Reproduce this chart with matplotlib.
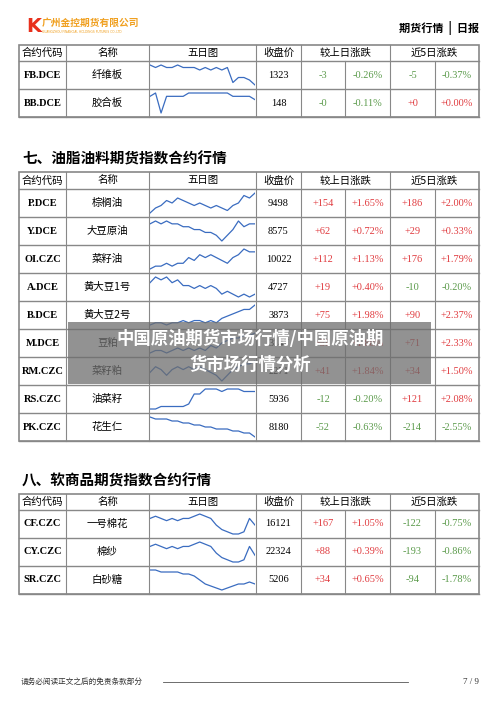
import matplotlib
matplotlib.use("Agg")
import matplotlib.pyplot as plt
from matplotlib.patches import Rectangle

CJK = ["Noto Sans CJK SC", "DejaVu Sans"]
SERIF = ["Liberation Serif", "Noto Sans CJK SC"]
RED, GREEN, BLUE = "#e03a3e", "#5a9a4a", "#3a6cc0"

headers = ["合约代码", "名称", "五日图", "收盘价", "较上日涨跌", "近5日涨跌"]

# table 1 (continued)
t1_codes = ["FB.DCE", "BB.DCE"]
t1_names = ["纤维板", "胶合板"]
t1_close = ["1323", "148"]
t1_chg = ["-3", "-0"]
t1_pct = ["-0.26%", "-0.11%"]
t1_chg5 = ["-5", "+0"]
t1_pct5 = ["-0.37%", "+0.00%"]
t1_spark = [
    [9, 8, 9, 8, 8, 9, 8, 8, 8, 7, 8, 7, 8, 7, 8, 2, 4, 4, 3, 1],
    [5, 6, 0, 5, 5, 5, 5, 6, 6, 6, 6, 6, 6, 6, 6, 5, 5, 5, 5, 4],
]

# table 2: oils
t2_codes = ["P.DCE", "Y.DCE", "OI.CZC", "A.DCE", "B.DCE", "M.DCE", "RM.CZC", "RS.CZC", "PK.CZC"]
t2_names = ["棕榈油", "大豆原油", "菜籽油", "黄大豆1号", "黄大豆2号", "豆粕", "菜籽粕", "油菜籽", "花生仁"]
t2_close = ["9498", "8575", "10022", "4727", "3873", "3147", "2271", "5936", "8180"]
t2_chg = ["+154", "+62", "+112", "+19", "+75", "+58", "+41", "-12", "-52"]
t2_pct = ["+1.65%", "+0.72%", "+1.13%", "+0.40%", "+1.98%", "+1.88%", "+1.84%", "-0.20%", "-0.63%"]
t2_chg5 = ["+186", "+29", "+176", "-10", "+90", "+71", "+34", "+121", "-214"]
t2_pct5 = ["+2.00%", "+0.33%", "+1.79%", "-0.20%", "+2.37%", "+2.33%", "+1.50%", "+2.08%", "-2.55%"]
t2_spark = [
    [2, 4, 5, 7, 6, 8, 7, 6, 5, 6, 5, 4, 5, 4, 3, 5, 6, 9, 8, 10],
    [7, 8, 7, 8, 7, 7, 6, 6, 5, 5, 4, 4, 3, 1, 3, 5, 8, 6, 7, 7],
    [1, 2, 2, 3, 2, 3, 3, 5, 4, 6, 5, 6, 5, 4, 3, 5, 6, 8, 7, 7],
    [7, 9, 8, 9, 7, 8, 6, 6, 5, 6, 5, 6, 5, 3, 4, 3, 2, 3, 2, 3],
    [1, 2, 2, 1, 2, 2, 3, 2, 3, 3, 2, 3, 2, 4, 5, 6, 7, 8, 8, 10],
    [2, 3, 3, 2, 3, 4, 3, 4, 3, 4, 3, 5, 4, 6, 7, 8, 8, 9, 9, 10],
    [4, 6, 5, 3, 5, 6, 5, 6, 5, 6, 5, 4, 3, 1, 3, 5, 6, 7, 7, 8],
    [1, 1, 2, 2, 2, 2, 2, 3, 7, 7, 9, 9, 9, 8, 9, 9, 9, 8, 8, 8],
    [10, 9, 9, 9, 8, 8, 7, 7, 6, 6, 5, 5, 4, 4, 4, 3, 3, 2, 2, 0],
]

# table 3: softs
t3_codes = ["CF.CZC", "CY.CZC", "SR.CZC"]
t3_names = ["一号棉花", "棉纱", "白砂糖"]
t3_close = ["16121", "22324", "5206"]
t3_chg = ["+167", "+88", "+34"]
t3_pct = ["+1.05%", "+0.39%", "+0.65%"]
t3_chg5 = ["-122", "-193", "-94"]
t3_pct5 = ["-0.75%", "-0.86%", "-1.78%"]
t3_spark = [
    [8, 9, 8, 7, 8, 7, 8, 8, 9, 10, 9, 8, 5, 3, 2, 1, 1, 2, 8, 5],
    [8, 9, 8, 7, 8, 7, 8, 8, 9, 10, 9, 8, 5, 3, 2, 1, 1, 2, 8, 4],
    [10, 10, 9, 9, 9, 9, 8, 8, 7, 5, 3, 2, 1, 0, 1, 2, 3, 3, 4, 3],
]

W, H = 500, 707
fig = plt.figure(figsize=(5, 7.07), dpi=100)
ax = fig.add_axes([0, 0, 1, 1])
ax.set_xlim(0, W)
ax.set_ylim(H, 0)
ax.axis("off")

cols = [19, 66, 149, 256, 301, 345, 390, 435, 479]
RH = 28


def col(val):
    return RED if val.startswith("+") else GREEN


def table(top, hh, codes, names, close, chg, pct, chg5, pct5, sparks):
    n = len(codes)
    bottom = top + hh + n * RH
    lc = "#888888"
    ax.add_patch(Rectangle((cols[0], top), cols[-1] - cols[0], bottom - top, fill=False, ec=lc, lw=1.2))
    for i, x in enumerate(cols[1:-1], 1):
        if i in (5, 7):
            ax.plot([x, x], [top + hh, bottom], color=lc, lw=0.8)
        else:
            ax.plot([x, x], [top, bottom], color=lc, lw=0.8)
    for r in range(n + 1):
        y = top + hh + r * RH
        ax.plot([cols[0], cols[-1]], [y, y], color=lc, lw=1.0)
    hx = [(cols[0] + cols[1]) / 2, (cols[1] + cols[2]) / 2, (cols[2] + cols[3]) / 2,
          (cols[3] + cols[4]) / 2, (cols[4] + cols[6]) / 2, (cols[6] + cols[8]) / 2]
    for x, t in zip(hx, headers):
        ax.text(x, top + hh / 2, t, ha="center", va="center", fontsize=7.5, family=CJK)
    for r in range(n):
        yc = top + hh + r * RH + RH / 2
        ax.text((cols[0] + cols[1]) / 2, yc, codes[r], ha="center", va="center",
                fontsize=7.5, weight="bold", family=SERIF)
        ax.text((cols[1] + cols[2]) / 2, yc, names[r], ha="center", va="center", fontsize=7.5, family=CJK)
        ax.text((cols[3] + cols[4]) / 2, yc, close[r], ha="center", va="center", fontsize=7.5, family=SERIF)
        for c, v in zip(range(4, 8), [chg[r], pct[r], chg5[r], pct5[r]]):
            ax.text((cols[c] + cols[c + 1]) / 2, yc, v, ha="center", va="center",
                    fontsize=7.5, family=SERIF, color=col(v))
        y0 = top + hh + r * RH + 3
        sa = fig.add_axes([(cols[2] + 1) / W, 1 - (y0 + RH - 6) / H, (cols[3] - cols[2] - 2) / W, (RH - 6) / H])
        sa.plot(sparks[r], color=BLUE, lw=0.9)
        sa.set_xlim(0, len(sparks[r]) - 1)
        sa.axis("off")


# header band
ax.text(26, 26, "K", color="#e8301c", fontsize=14, weight="bold", va="center", family=["DejaVu Sans"])
ax.text(42, 23, "广州金控期货有限公司", color="#f0a020", fontsize=7, weight="bold", va="center", family=CJK)
ax.text(42, 32, "GUANGZHOU FINANCIAL HOLDINGS FUTURES CO.,LTD", color="#f0a020", fontsize=2.2, va="center")
ax.text(479, 28, "期货行情  |  日报", ha="right", va="center", fontsize=8, weight="bold", family=CJK)

table(45, 16, t1_codes, t1_names, t1_close, t1_chg, t1_pct, t1_chg5, t1_pct5, t1_spark)

ax.text(22, 159, "七、油脂油料期货指数合约行情", fontsize=10.5, weight="bold", va="center", family=CJK)
table(172, 17, t2_codes, t2_names, t2_close, t2_chg, t2_pct, t2_chg5, t2_pct5, t2_spark)

ax.text(22, 481, "八、软商品期货指数合约行情", fontsize=10.5, weight="bold", va="center", family=CJK)
table(494, 16, t3_codes, t3_names, t3_close, t3_chg, t3_pct, t3_chg5, t3_pct5, t3_spark)

# footer
ax.text(21, 682, "请务必阅读正文之后的免责条款部分", fontsize=5.5, va="center", family=CJK, color="#333333")
ax.plot([163, 408], [682, 682], color="#555555", lw=0.6)
ax.text(479, 682, "7 / 9", ha="right", va="center", fontsize=6.5, family=SERIF, color="#333333")

# overlay banner
ov = fig.add_axes([0, 0, 1, 1], zorder=10)
ov.set_xlim(0, W)
ov.set_ylim(H, 0)
ov.axis("off")
ov.add_patch(Rectangle((68, 322), 363, 62, color="#6e6e6e", alpha=0.75, lw=0))
ov.text(250, 339, "中国原油期货市场行情/中国原油期", ha="center", va="center", color="white",
        fontsize=12.5, weight="bold", family=CJK)
ov.text(250, 365, "货市场行情分析", ha="center", va="center", color="white",
        fontsize=12.5, weight="bold", family=CJK)

fig.savefig("out.png", dpi=100)
